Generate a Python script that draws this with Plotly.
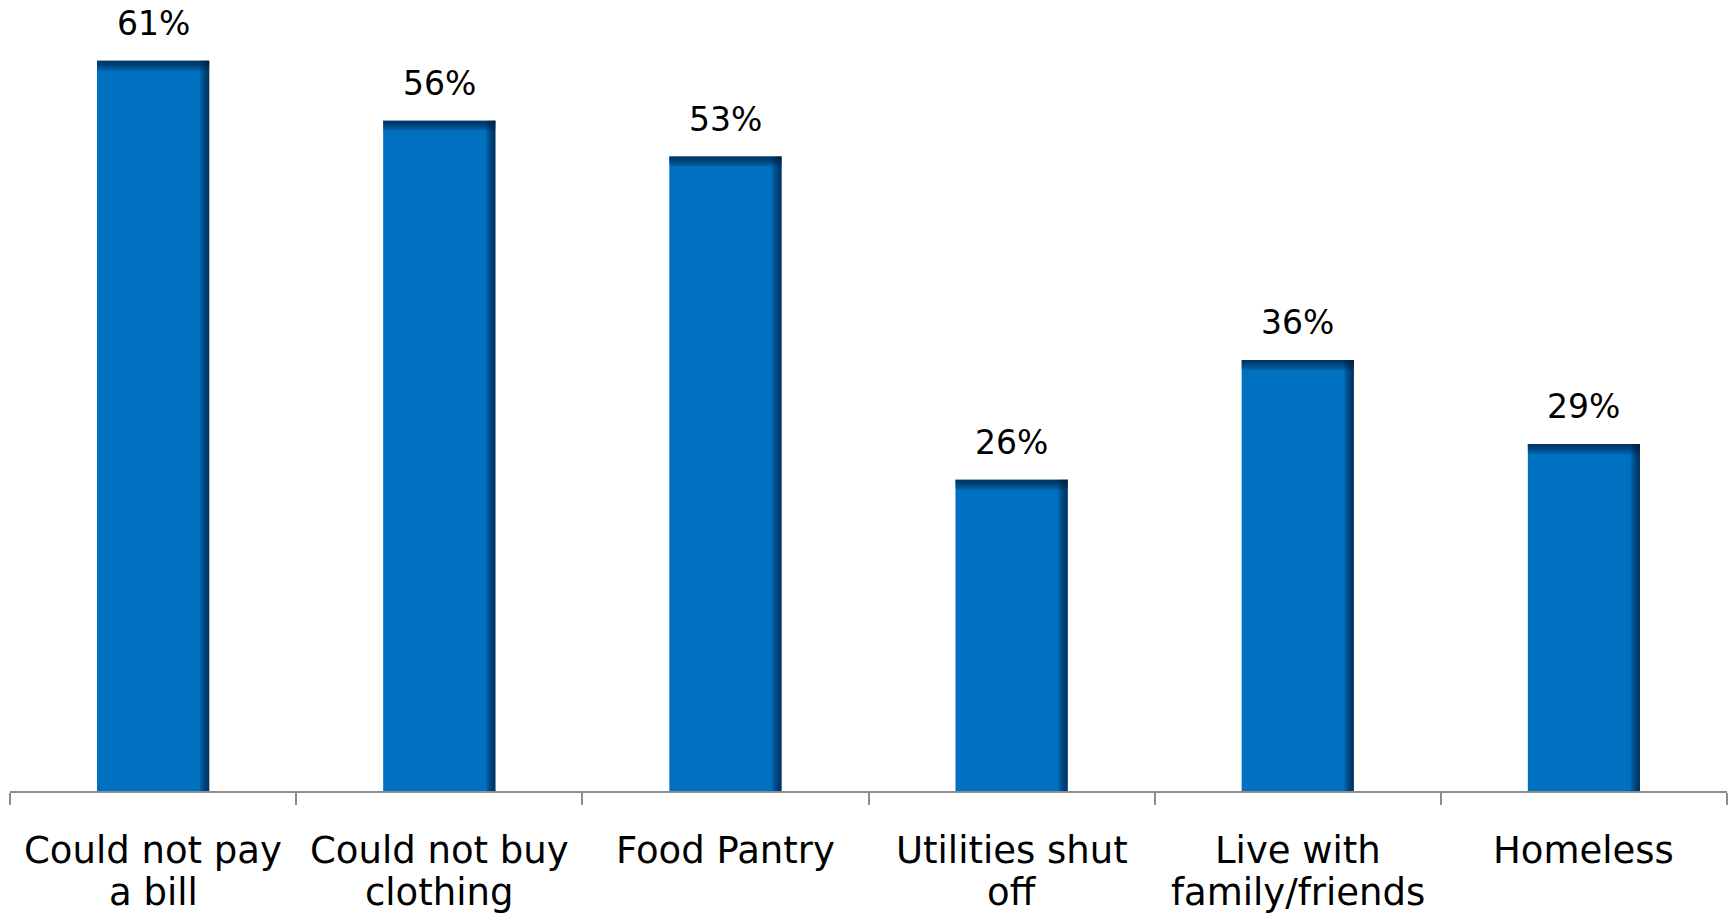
import plotly.graph_objects as go

# ---- data ----
categories = ["Could not pay a bill", "Could not buy clothing", "Food Pantry",
              "Utilities shut off", "Live with family/friends", "Homeless"]
label_line1 = ["Could not pay", "Could not buy", "Food Pantry",
               "Utilities shut", "Live with", "Homeless"]
label_line2 = ["a bill", "clothing", "", "off", "family/friends", ""]
values = [61, 56, 53, 26, 36, 29]
value_labels = ["61%", "56%", "53%", "26%", "36%", "29%"]

# ---- style ----
BAR_COLOR = "#0070C0"
SHADE = "rgba(0,25,55,0.16)"
BAR_W = 0.392
FONT = "DejaVu Sans"

fig = go.Figure()

# main bars
fig.add_trace(go.Bar(x=categories, y=values, width=BAR_W, offset=-BAR_W / 2,
                     marker=dict(color=BAR_COLOR, line=dict(width=0)),
                     hoverinfo="skip", showlegend=False))

# shading strips on the right edge (gradient)
for k in range(1, 7):
    w = k * 0.0055
    fig.add_trace(go.Bar(x=categories, y=values, width=w, offset=BAR_W / 2 - w,
                         marker=dict(color=SHADE, line=dict(width=0)),
                         hoverinfo="skip", showlegend=False))

# shading strips on the top edge (gradient)
for k in range(1, 7):
    d = k * 0.14
    fig.add_trace(go.Bar(x=categories, y=[d] * len(values),
                         base=[v - d for v in values],
                         width=BAR_W, offset=-BAR_W / 2,
                         marker=dict(color=SHADE, line=dict(width=0)),
                         hoverinfo="skip", showlegend=False))

annotations = []
for c, v, t in zip(categories, values, value_labels):
    annotations.append(dict(x=c, y=v, xref="x", yref="y", text=t, showarrow=False,
                            yanchor="bottom", yshift=16,
                            font=dict(family=FONT, size=33, color="#000000")))
for c, l1, l2 in zip(categories, label_line1, label_line2):
    annotations.append(dict(x=c, y=0, xref="x", yref="paper", text=l1, showarrow=False,
                            yanchor="top", yshift=-36,
                            font=dict(family=FONT, size=37, color="#000000")))
    if l2:
        annotations.append(dict(x=c, y=0, xref="x", yref="paper", text=l2, showarrow=False,
                                yanchor="top", yshift=-78,
                                font=dict(family=FONT, size=37, color="#000000")))

fig.update_layout(
    width=1733, height=915,
    margin=dict(l=10, r=6, t=1, b=124),
    paper_bgcolor="white", plot_bgcolor="white",
    barmode="overlay",
    annotations=annotations,
    xaxis=dict(showticklabels=False, showgrid=False, zeroline=False,
               showline=True, linecolor="#8C8C8C", linewidth=2,
               ticks="outside", tickson="boundaries", ticklen=12,
               tickcolor="#8C8C8C", tickwidth=2, fixedrange=True),
    yaxis=dict(visible=False, range=[0, 66], fixedrange=True),
)

fig.write_html("out.html",
               config={"displayModeBar": False},
               post_script="document.body.style.margin='0';document.body.style.overflow='hidden';")
